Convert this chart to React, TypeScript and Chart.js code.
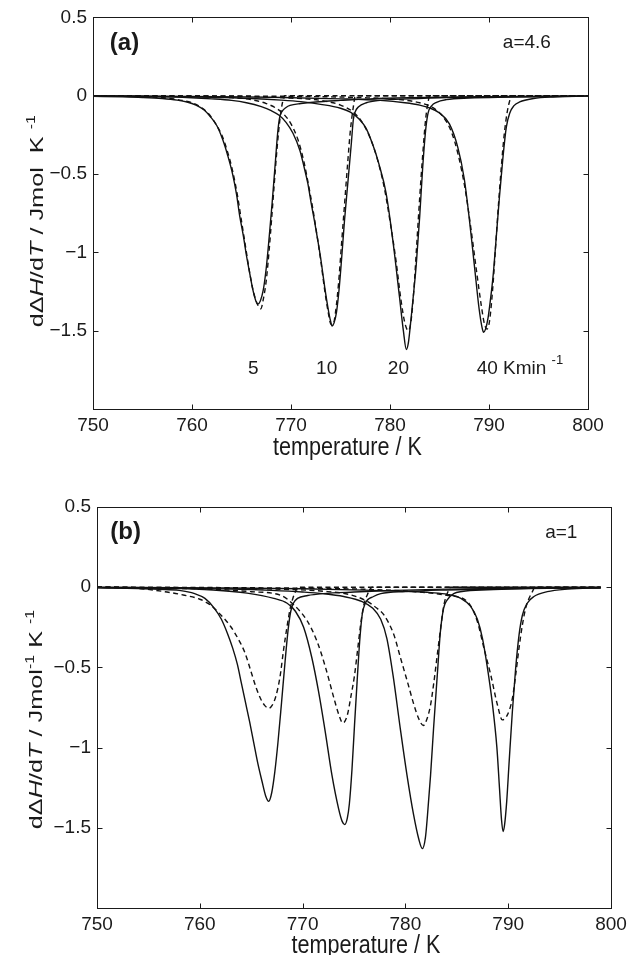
import React, { useEffect, useRef } from 'react';
import { Chart, registerables } from 'chart.js';

Chart.register(...registerables);

type P = [number, number][];

// ---------- Panel (a): a = 4.6 ----------
const A_SOLID_5: P = [[750,-0.004],[753,-0.007],[755,-0.011],[757,-0.018],[758.5,-0.028],[759.5,-0.04],[760.4,-0.06],[761.2,-0.09],[761.8,-0.13],[762.5,-0.19],[763.1,-0.28],[763.6,-0.38],[764.1,-0.5],[764.5,-0.63],[764.8,-0.76],[765.2,-0.9],[765.5,-1.02],[765.85,-1.14],[766.15,-1.24],[766.45,-1.31],[766.65,-1.33],[766.9,-1.31],[767.2,-1.24],[767.5,-1.1],[767.8,-0.9],[768.1,-0.68],[768.4,-0.44],[768.65,-0.24],[768.85,-0.14],[769.1,-0.1],[769.5,-0.075],[769.9,-0.062],[771,-0.05],[772.5,-0.04],[775,-0.03],[778,-0.02],[782,-0.013],[787,-0.008],[793,-0.005],[800,-0.003]];
const A_DASH_5: P = [[750,0],[755,-0.005],[757.5,-0.015],[759,-0.03],[760,-0.045],[760.8,-0.07],[761.6,-0.11],[762.3,-0.17],[763,-0.25],[763.6,-0.36],[764.1,-0.48],[764.6,-0.64],[765,-0.8],[765.4,-0.96],[765.8,-1.12],[766.2,-1.25],[766.6,-1.33],[766.95,-1.36],[767.2,-1.3],[767.5,-1.18],[767.8,-0.98],[768.05,-0.78],[768.3,-0.57],[768.6,-0.33],[768.9,-0.14],[769.15,-0.04],[769.35,0],[800,0]];
const A_SOLID_10: P = [[750,-0.002],[755,-0.005],[759,-0.01],[762,-0.02],[764,-0.03],[765.5,-0.045],[767,-0.07],[768,-0.095],[768.8,-0.125],[769.5,-0.17],[770.2,-0.24],[770.9,-0.35],[771.3,-0.45],[771.7,-0.56],[772.05,-0.69],[772.4,-0.81],[772.75,-0.94],[773.05,-1.06],[773.4,-1.22],[773.75,-1.36],[774,-1.44],[774.15,-1.47],[774.35,-1.45],[774.6,-1.38],[774.85,-1.24],[775.1,-1.05],[775.4,-0.8],[775.75,-0.55],[776.1,-0.3],[776.3,-0.15],[776.5,-0.1],[776.8,-0.072],[777.6,-0.045],[779,-0.03],[782,-0.02],[786,-0.012],[791,-0.007],[796,-0.004],[800,-0.003]];
const A_DASH_10: P = [[750,0],[760,-0.004],[764,-0.012],[766,-0.025],[767.5,-0.05],[768.5,-0.08],[769.3,-0.12],[770,-0.18],[770.7,-0.28],[771.3,-0.42],[771.8,-0.58],[772.2,-0.72],[772.6,-0.88],[773,-1.05],[773.4,-1.24],[773.75,-1.38],[774.05,-1.46],[774.25,-1.46],[774.5,-1.38],[774.8,-1.2],[775.1,-0.95],[775.4,-0.7],[775.7,-0.45],[776,-0.22],[776.3,-0.07],[776.5,0],[800,0]];
const A_SOLID_20: P = [[750,-0.001],[756,-0.004],[762,-0.01],[766,-0.018],[769,-0.028],[771,-0.038],[773,-0.055],[775,-0.08],[776,-0.105],[776.9,-0.15],[777.6,-0.21],[778.3,-0.32],[778.9,-0.44],[779.6,-0.62],[780.3,-0.93],[780.95,-1.28],[781.35,-1.5],[781.65,-1.62],[781.85,-1.58],[782.1,-1.44],[782.4,-1.25],[782.65,-1.08],[783,-0.77],[783.3,-0.46],[783.6,-0.22],[783.85,-0.11],[784.2,-0.065],[784.7,-0.042],[785.7,-0.025],[788,-0.015],[792,-0.009],[796,-0.005],[800,-0.003]];
const A_DASH_20: P = [[750,0],[765,-0.004],[770,-0.015],[773,-0.03],[775,-0.06],[776.2,-0.1],[777.2,-0.17],[778,-0.27],[778.7,-0.4],[779.4,-0.58],[780,-0.8],[780.6,-1.05],[781.1,-1.3],[781.5,-1.45],[781.85,-1.5],[782.1,-1.45],[782.4,-1.25],[782.7,-0.95],[783,-0.65],[783.3,-0.38],[783.6,-0.15],[783.85,-0.04],[784,0],[800,0]];
const A_SOLID_40: P = [[750,-0.001],[760,-0.004],[768,-0.01],[775,-0.02],[779,-0.03],[781.5,-0.045],[783,-0.06],[784,-0.078],[785,-0.11],[786,-0.18],[786.85,-0.33],[787.5,-0.53],[788,-0.78],[788.5,-1.07],[789,-1.36],[789.3,-1.48],[789.45,-1.51],[789.65,-1.49],[789.9,-1.42],[790.15,-1.3],[790.4,-1.16],[790.7,-0.93],[791.05,-0.65],[791.4,-0.4],[791.75,-0.2],[792.1,-0.11],[792.5,-0.065],[793.1,-0.04],[794.5,-0.018],[796.5,-0.008],[800,-0.003]];
const A_DASH_40: P = [[750,0],[770,-0.004],[777,-0.012],[781,-0.025],[783,-0.045],[784.3,-0.075],[785.3,-0.13],[786.2,-0.23],[786.9,-0.38],[787.6,-0.6],[788.2,-0.86],[788.7,-1.1],[789.2,-1.33],[789.55,-1.46],[789.8,-1.49],[790.05,-1.44],[790.35,-1.25],[790.65,-0.98],[790.95,-0.7],[791.25,-0.45],[791.55,-0.24],[791.85,-0.1],[792.1,-0.03],[792.25,0],[800,0]];

// ---------- Panel (b): a = 1 ----------
const B_SOLID_5: P = [[750,-0.004],[754,-0.008],[756,-0.013],[758,-0.02],[759.5,-0.04],[760.5,-0.07],[761.4,-0.13],[762.1,-0.2],[762.7,-0.29],[763.2,-0.38],[763.65,-0.48],[764.05,-0.6],[764.45,-0.72],[764.85,-0.84],[765.25,-0.97],[765.65,-1.1],[766.05,-1.21],[766.4,-1.3],[766.7,-1.335],[767,-1.28],[767.3,-1.15],[767.6,-0.97],[767.95,-0.72],[768.3,-0.46],[768.6,-0.26],[768.85,-0.15],[769.1,-0.1],[769.5,-0.07],[770.5,-0.052],[772,-0.04],[775,-0.03],[779,-0.02],[784,-0.012],[790,-0.007],[795,-0.004],[799,-0.002]];
const B_DASH_5: P = [[750,0],[754,-0.008],[756.8,-0.03],[758.5,-0.05],[760,-0.075],[761,-0.11],[762,-0.17],[763,-0.245],[763.8,-0.33],[764.4,-0.41],[765,-0.53],[765.5,-0.63],[765.95,-0.7],[766.35,-0.74],[766.7,-0.755],[767.05,-0.735],[767.4,-0.68],[767.8,-0.56],[768.15,-0.39],[768.5,-0.24],[768.8,-0.13],[769.05,-0.07],[769.35,-0.02],[769.5,0],[799,0]];
const B_SOLID_10: P = [[750,-0.002],[756,-0.006],[761.3,-0.017],[764.6,-0.037],[767.2,-0.07],[768.5,-0.1],[769.3,-0.15],[770.1,-0.25],[770.9,-0.44],[771.55,-0.65],[772.2,-0.9],[772.85,-1.17],[773.5,-1.38],[773.85,-1.46],[774.1,-1.48],[774.35,-1.44],[774.55,-1.35],[774.8,-1.14],[775.05,-0.86],[775.3,-0.59],[775.55,-0.34],[775.8,-0.17],[776.1,-0.1],[776.9,-0.058],[777.6,-0.04],[780,-0.027],[784,-0.017],[789,-0.01],[794,-0.005],[799,-0.003]];
const B_DASH_10: P = [[750,0],[757,-0.006],[762,-0.015],[765,-0.028],[767.85,-0.05],[769.14,-0.11],[770.45,-0.21],[771.42,-0.34],[772.23,-0.5],[773.04,-0.69],[773.5,-0.79],[773.92,-0.847],[774.34,-0.8],[774.73,-0.67],[775.05,-0.55],[775.37,-0.38],[775.64,-0.235],[775.96,-0.11],[776.29,-0.048],[776.6,-0.01],[776.75,0],[799,0]];
const B_SOLID_20: P = [[750,-0.001],[757,-0.005],[763,-0.011],[767,-0.02],[770,-0.03],[772,-0.04],[774,-0.058],[775.8,-0.09],[776.8,-0.13],[777.6,-0.2],[778.2,-0.32],[778.8,-0.55],[779.5,-0.88],[780.15,-1.17],[780.8,-1.42],[781.3,-1.57],[781.65,-1.63],[781.95,-1.56],[782.15,-1.42],[782.45,-1.17],[782.75,-0.87],[783.1,-0.55],[783.4,-0.28],[783.72,-0.13],[784.05,-0.08],[784.7,-0.04],[785.5,-0.027],[788,-0.016],[792,-0.009],[796,-0.005],[799,-0.003]];
const B_DASH_20: P = [[750,0],[762,-0.005],[768,-0.013],[772,-0.025],[774.5,-0.045],[776.2,-0.085],[777.2,-0.13],[777.91,-0.173],[778.88,-0.297],[779.53,-0.442],[780.19,-0.588],[780.83,-0.733],[781.3,-0.82],[781.74,-0.862],[782.13,-0.816],[782.45,-0.733],[782.78,-0.588],[783.1,-0.422],[783.43,-0.255],[783.75,-0.11],[784.08,-0.037],[784.4,0],[799,0]];
const B_SOLID_40: P = [[750,-0.001],[762,-0.005],[770,-0.01],[776,-0.018],[780,-0.026],[782.5,-0.034],[784.1,-0.045],[785.4,-0.07],[786.35,-0.12],[787,-0.2],[787.5,-0.32],[787.95,-0.49],[788.45,-0.72],[788.9,-1],[789.15,-1.25],[789.35,-1.45],[789.5,-1.523],[789.65,-1.48],[789.85,-1.34],[790.1,-1.08],[790.4,-0.78],[790.72,-0.51],[791.05,-0.3],[791.38,-0.175],[791.85,-0.1],[792.5,-0.058],[793.8,-0.028],[795.8,-0.012],[799,-0.003]];
const B_DASH_40: P = [[750,0],[768,-0.005],[776,-0.013],[781,-0.028],[784,-0.05],[786.03,-0.09],[787,-0.214],[787.64,-0.38],[788.3,-0.546],[788.95,-0.733],[789.43,-0.827],[789.92,-0.796],[790.41,-0.692],[790.73,-0.546],[791.05,-0.38],[791.38,-0.235],[791.7,-0.131],[792.03,-0.069],[792.36,-0.027],[792.6,0],[799,0]];

// ---------- axes ----------
const X_MIN = 750, X_MAX = 800, X_STEP = 10;
const Y_MIN = -2, Y_MAX = 0.5, Y_STEP = 0.5;
const X_INNER_TICKS = [760, 770, 780, 790];
const Y_INNER_TICKS = [0, -0.5, -1, -1.5];
const RATES = ['5', '10', '20'];
const RATE_T = [766.2, 773.6, 780.85];
const RATE_LAST = '40 Kmin';
const RATE_LAST_T = 788.75;

const FONT = '"Liberation Sans", Arial, Helvetica, sans-serif';
const INK = '#1a1a1a';

type Cfg = {
  solids: P[];
  dashes: P[];
  tag: string;
  aText: string;
  aT: number;
  tagT: number;
  labelV: number;
  molSup: boolean;
  showRates: boolean;
  height: number;
  area: { left: number; right: number; top: number; bottom: number };
  yTitleX: number;
  yTitleShift: number;
  xTitleY: number;
  xTitleShift: number;
};

function fmtY(v: number) {
  if (Math.abs(v - Y_MIN) < 1e-9) return '';
  if (Math.abs(v) < 1e-9) return '0';
  const s = String(Math.abs(v));
  return v < 0 ? '\u2212' + s : s;
}

function makeDecor(cfg: Cfg) {
  return {
    id: 'decor',
    afterDraw(chart: any) {
      const ctx: CanvasRenderingContext2D = chart.ctx;
      const a = chart.chartArea;
      const xs = chart.scales.x;
      const ys = chart.scales.y;
      ctx.save();
      // frame with inward ticks
      ctx.strokeStyle = INK;
      ctx.lineWidth = 1;
      const L = Math.round(a.left) + 0.5, R = Math.round(a.right) + 0.5;
      const T = Math.round(a.top) + 0.5, B = Math.round(a.bottom) + 0.5;
      ctx.strokeRect(L, T, R - L, B - T);
      ctx.beginPath();
      for (const t of X_INNER_TICKS) {
        const px = Math.round(xs.getPixelForValue(t)) + 0.5;
        ctx.moveTo(px, B); ctx.lineTo(px, B - 5);
        ctx.moveTo(px, T); ctx.lineTo(px, T + 5);
      }
      for (const t of Y_INNER_TICKS) {
        const py = Math.round(ys.getPixelForValue(t)) + 0.5;
        ctx.moveTo(L, py); ctx.lineTo(L + 5, py);
        ctx.moveTo(R, py); ctx.lineTo(R - 5, py);
      }
      ctx.stroke();

      ctx.fillStyle = INK;
      ctx.textBaseline = 'middle';
      ctx.textAlign = 'left';
      ctx.font = `bold 24px ${FONT}`;
      ctx.fillText(cfg.tag, xs.getPixelForValue(cfg.tagT), ys.getPixelForValue(cfg.labelV));
      ctx.font = `19px ${FONT}`;
      ctx.fillText(cfg.aText, xs.getPixelForValue(cfg.aT), ys.getPixelForValue(cfg.labelV));

      if (cfg.showRates) {
        const py = ys.getPixelForValue(-1.74);
        ctx.textAlign = 'center';
        RATES.forEach((r, i) => ctx.fillText(r, xs.getPixelForValue(RATE_T[i]), py));
        ctx.textAlign = 'left';
        const x0 = xs.getPixelForValue(RATE_LAST_T);
        ctx.fillText(RATE_LAST, x0, py);
        const w = ctx.measureText(RATE_LAST + ' ').width;
        ctx.font = `13px ${FONT}`;
        ctx.fillText('-1', x0 + w, py - 8);
      }

      // x title
      ctx.save();
      ctx.font = `20px ${FONT}`;
      ctx.textAlign = 'center';
      ctx.textBaseline = 'alphabetic';
      ctx.translate((a.left + a.right) / 2 + cfg.xTitleShift, cfg.xTitleY);
      ctx.scale(1.08, 1.28);
      ctx.fillText('temperature / K', 0, 0);
      ctx.restore();

      // y title
      ctx.save();
      ctx.translate(cfg.yTitleX, (a.top + a.bottom) / 2 + cfg.yTitleShift);
      ctx.rotate(-Math.PI / 2);
      ctx.scale(1.33, 1);
      ctx.textBaseline = 'alphabetic';
      ctx.textAlign = 'left';
      const segs: [string, string, number][] = [
        ['d\u0394', `19px ${FONT}`, 0],
        ['H', `italic 19px ${FONT}`, 0],
        ['/d', `19px ${FONT}`, 0],
        ['T', `italic 19px ${FONT}`, 0],
        [' / Jmol', `19px ${FONT}`, 0],
      ];
      if (cfg.molSup) segs.push(['-1', `12px ${FONT}`, -8]);
      else segs.push([' ', `19px ${FONT}`, 0]);
      segs.push([' K ', `19px ${FONT}`, 0]);
      segs.push(['-1', `12px ${FONT}`, -8]);
      let total = 0;
      for (const [s, f] of segs) { ctx.font = f; total += ctx.measureText(s).width; }
      let x = -total / 2;
      for (const [s, f, dy] of segs) {
        ctx.font = f;
        ctx.fillText(s, x, dy);
        x += ctx.measureText(s).width;
      }
      ctx.restore();

      ctx.restore();
    },
  };
}

function toData(p: P) {
  return p.map(([x, y]) => ({ x, y }));
}

function Panel({ cfg, top }: { cfg: Cfg; top: number }) {
  const ref = useRef<HTMLCanvasElement>(null);
  useEffect(() => {
    const canvas = ref.current!;
    const line = (p: P, dashed: boolean) => ({
      data: toData(p),
      showLine: true,
      borderColor: '#111',
      borderWidth: 1.4,
      borderDash: dashed ? [5, 3.5] : [],
      pointRadius: 0,
      fill: false,
      cubicInterpolationMode: 'monotone' as const,
    });
    const W = 641;
    const chart = new Chart(canvas, {
      type: 'scatter',
      data: {
        datasets: [
          ...cfg.solids.map((p) => line(p, false)),
          ...cfg.dashes.map((p) => line(p, true)),
        ],
      },
      options: {
        animation: false,
        responsive: false,
        devicePixelRatio: 1,
        events: [],
        layout: {
          padding: { left: 0, top: cfg.area.top, right: W - cfg.area.right, bottom: 0 },
        },
        plugins: { legend: { display: false }, tooltip: { enabled: false } },
        scales: {
          x: {
            type: 'linear',
            min: X_MIN,
            max: X_MAX,
            afterFit: (s: any) => { s.height = cfg.height - cfg.area.bottom; },
            grid: { display: false, drawTicks: false },
            border: { display: false },
            ticks: {
              stepSize: X_STEP,
              padding: 5,
              color: INK,
              font: { family: FONT, size: 19 },
              callback: (v: any) => String(v),
              maxRotation: 0,
            },
          },
          y: {
            type: 'linear',
            min: Y_MIN,
            max: Y_MAX,
            afterFit: (s: any) => { s.width = cfg.area.left; },
            grid: { display: false, drawTicks: false },
            border: { display: false },
            ticks: {
              stepSize: Y_STEP,
              padding: 6,
              color: INK,
              font: { family: FONT, size: 19 },
              callback: (v: any) => fmtY(Number(v)),
            },
          },
        },
      },
      plugins: [makeDecor(cfg)],
    });
    return () => chart.destroy();
  }, [cfg]);
  return (
    <canvas
      ref={ref}
      width={641}
      height={cfg.height}
      style={{ position: 'absolute', left: 0, top, width: 641, height: cfg.height, display: 'block' }}
    />
  );
}

const CFG_A: Cfg = {
  solids: [A_SOLID_5, A_SOLID_10, A_SOLID_20, A_SOLID_40],
  dashes: [A_DASH_5, A_DASH_10, A_DASH_20, A_DASH_40],
  tag: '(a)',
  aText: 'a=4.6',
  aT: 791.4,
  tagT: 751.7,
  labelV: 0.335,
  molSup: false,
  showRates: true,
  height: 470,
  area: { left: 93, right: 588, top: 17, bottom: 409 },
  yTitleX: 43,
  yTitleShift: 8,
  xTitleY: 455,
  xTitleShift: 7,
};

const CFG_B: Cfg = {
  solids: [B_SOLID_5, B_SOLID_10, B_SOLID_20, B_SOLID_40],
  dashes: [B_DASH_5, B_DASH_10, B_DASH_20, B_DASH_40],
  tag: '(b)',
  aText: 'a=1',
  aT: 793.6,
  tagT: 751.3,
  labelV: 0.34,
  molSup: true,
  showRates: false,
  height: 485,
  area: { left: 97, right: 611, top: 37, bottom: 438 },
  yTitleX: 42,
  yTitleShift: 12,
  xTitleY: 483,
  xTitleShift: 12,
};

export default function App() {
  return (
    <div style={{ position: 'absolute', left: 0, top: 0, width: 641, height: 955, background: '#fff', overflow: 'hidden' }}>
      <Panel cfg={CFG_A} top={0} />
      <Panel cfg={CFG_B} top={470} />
    </div>
  );
}
